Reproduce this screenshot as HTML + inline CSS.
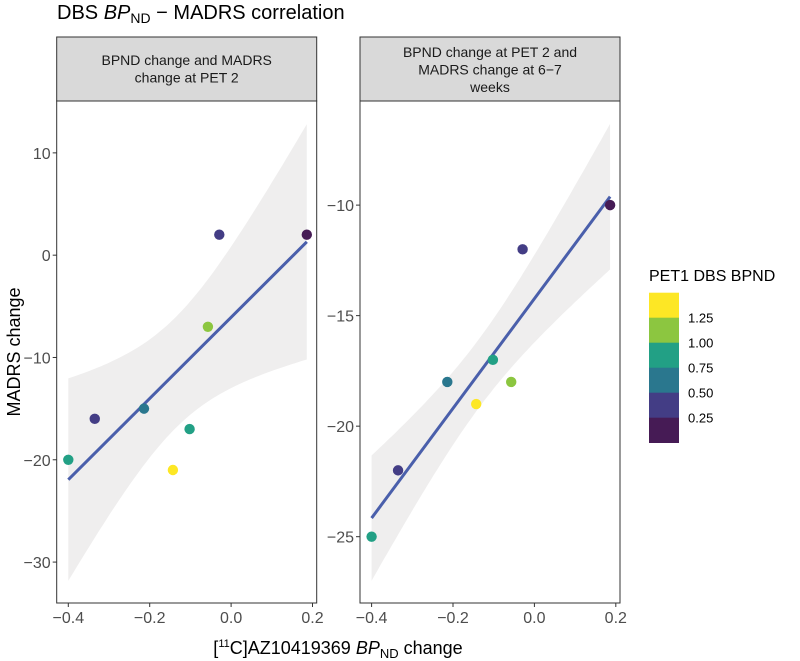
<!DOCTYPE html>
<html><head><meta charset="utf-8"><style>
body{margin:0;background:#fff;}
svg{display:block;font-family:"Liberation Sans",Arial,sans-serif;}
</style></head><body>
<svg id="chart" width="800" height="661" viewBox="0 0 800 661" xmlns="http://www.w3.org/2000/svg">
<text x="57" y="19" font-size="20" fill="#000">DBS <tspan font-style="italic">BP</tspan><tspan font-size="14" dy="4">ND</tspan><tspan dy="-4"> − MADRS correlation</tspan></text>
<text transform="translate(20,352) rotate(-90)" text-anchor="middle" font-size="18" fill="#000">MADRS change</text>
<text x="338" y="654" text-anchor="middle" font-size="18" fill="#000">[<tspan font-size="11" dy="-7">11</tspan><tspan dy="7">C]AZ10419369 </tspan><tspan font-style="italic">BP</tspan><tspan font-size="13" dy="4">ND</tspan><tspan dy="-4"> change</tspan></text>
<g id="panels"></g>
<g id="legend"></g>
</svg>
<script>
const xValues = [-0.40, -0.335, -0.214, -0.102, -0.143, -0.057, -0.029, 0.186];
const pet1Bpnd = [0.85, 0.30, 0.60, 0.85, 1.40, 1.10, 0.30, 0.10];
const madrsPet2 = [-20, -16, -15, -17, -21, -7, 2, 2];
const madrs67 = [-25, -22, -18, -17, -19, -18, -12, -10];
const xTicks = [-0.4, -0.2, 0.0, 0.2];
const yTicksLeft = [10, 0, -10, -20, -30];
const yTicksRight = [-10, -15, -20, -25];
const legendBreaks = [1.25, 1.00, 0.75, 0.50, 0.25];
const legendColors = ["#fde725", "#8cc640", "#22a085", "#2a778e", "#433d85", "#461b55"];

const NS = "http://www.w3.org/2000/svg";
function mk(tag, attrs, parent) {
  const e = document.createElementNS(NS, tag);
  for (const k in attrs) e.setAttribute(k, attrs[k]);
  parent.appendChild(e);
  return e;
}
function colorFor(v) {
  if (v >= 1.25) return legendColors[0];
  if (v >= 1.0) return legendColors[1];
  if (v >= 0.75) return legendColors[2];
  if (v >= 0.5) return legendColors[3];
  if (v >= 0.25) return legendColors[4];
  return legendColors[5];
}
function fitLm(xs, ys) {
  const n = xs.length;
  const mx = xs.reduce((a, b) => a + b) / n, my = ys.reduce((a, b) => a + b) / n;
  let sxx = 0, sxy = 0;
  xs.forEach((x, i) => { sxx += (x - mx) ** 2; sxy += (x - mx) * (ys[i] - my); });
  const b = sxy / sxx, a = my - b * mx;
  let sse = 0;
  xs.forEach((x, i) => { sse += (ys[i] - a - b * x) ** 2; });
  const s = Math.sqrt(sse / (n - 2));
  return { a, b, s, mx, sxx, n };
}
const panelsG = document.getElementById("panels");
function drawPanel(cfg) {
  const g = mk("g", {}, panelsG);
  
  
  const L = cfg.left, R = cfg.left + 260, T = 101, B = 603;
  const xs = v => L + (v - cfg.xmin) / (cfg.xmax - cfg.xmin) * (R - L);
  const ys = v => B - (v - cfg.ymin) / (cfg.ymax - cfg.ymin) * (B - T);
  const strip = mk("rect", { x: L, y: 37, width: 260, height: 64, fill: "#d9d9d9", stroke: "#333", "stroke-width": 1 }, g);
  
  
  cfg.strip.forEach((line, i) => {
    const t = mk("text", { x: L + 130, y: cfg.stripY + i * 17.5, "text-anchor": "middle", "font-size": "14", fill: "#1a1a1a" }, g);
    t.textContent = line;
    
    
  });
  const f = fitLm(xValues, cfg.y);
  const tq = 2.447;
  const x0 = Math.min(...xValues), x1 = Math.max(...xValues);
  const up = [], lo = [];
  for (let i = 0; i <= 80; i++) {
    const x = x0 + (x1 - x0) * i / 80;
    const yh = f.a + f.b * x;
    const se = f.s * Math.sqrt(1 / f.n + (x - f.mx) ** 2 / f.sxx);
    up.push(xs(x).toFixed(1) + "," + ys(yh + tq * se).toFixed(1));
    lo.unshift(xs(x).toFixed(1) + "," + ys(yh - tq * se).toFixed(1));
  }
  const rib = mk("polygon", { points: up.concat(lo).join(" "), fill: "#efeeee" }, g);
  
  
  const ln = mk("line", { x1: xs(x0), y1: ys(f.a + f.b * x0), x2: xs(x1), y2: ys(f.a + f.b * x1), stroke: "#4a5fab", "stroke-width": 3 }, g);
  
  
  xValues.forEach((x, i) => {
    const c = mk("circle", { cx: xs(x), cy: ys(cfg.y[i]), r: 5.2, fill: colorFor(pet1Bpnd[i]) }, g);
    
    
  });
  const box = mk("rect", { x: L, y: T, width: 260, height: B - T, fill: "none", stroke: "#333", "stroke-width": 1 }, g);
  
  
  xTicks.forEach(v => {
    mk("line", { x1: xs(v), x2: xs(v), y1: B, y2: B + 4, stroke: "#333" }, g);
    const t = mk("text", { x: xs(v), y: B + 20, "text-anchor": "middle", "font-size": "16", fill: "#4d4d4d" }, g);
    t.textContent = (v < 0 ? "−" : "") + Math.abs(v).toFixed(1);
    
    
  });
  cfg.yTicks.forEach(v => {
    mk("line", { x1: L - 4, x2: L, y1: ys(v), y2: ys(v), stroke: "#333" }, g);
    const t = mk("text", { x: L - 6, y: ys(v) + 6, "text-anchor": "end", "font-size": "16", fill: "#4d4d4d" }, g);
    t.textContent = (v < 0 ? "−" : "") + Math.abs(v);
    
    
  });
}
drawPanel({ name: "panel-pet2", left: 56.7, xmin: -0.4285, xmax: 0.2103, ymin: -34.0, ymax: 15.07, y: madrsPet2, yTicks: yTicksLeft, strip: ["BPND change and MADRS", "change at PET 2"], stripY: 65 });
drawPanel({ name: "panel-6-7-weeks", left: 360, xmin: -0.4285, xmax: 0.2103, ymin: -28.0, ymax: -5.29, y: madrs67, yTicks: yTicksRight, strip: ["BPND change at PET 2 and", "MADRS change at 6−7", "weeks"], stripY: 57 });

const lg = document.getElementById("legend");
const lt = mk("text", { x: 649, y: 281, "font-size": "16", fill: "#000" }, lg);
lt.textContent = "PET1 DBS BPND";


legendColors.forEach((c, i) => {
  const r = mk("rect", { x: 649, y: 292.7 + i * 25, width: 30, height: 25.3, fill: c }, lg);
  
  
});
legendBreaks.forEach((b, i) => {
  const t = mk("text", { x: 688, y: 322.5 + i * 25, "font-size": "13", fill: "#000" }, lg);
  t.textContent = b.toFixed(2);
  
  
});
</script>
</body></html>
